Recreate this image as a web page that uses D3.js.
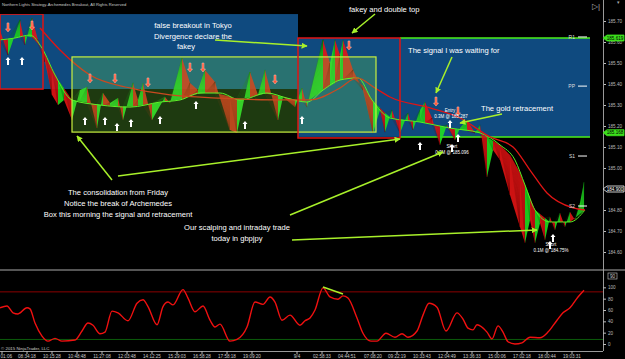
<!DOCTYPE html>
<html>
<head>
<meta charset="utf-8">
<script src="https://cdn.jsdelivr.net/npm/d3@7"></script>
<style>
  body { margin: 0; background: #000; }
  svg { display: block; font-family: "Liberation Sans", Arial, sans-serif; }
</style>
</head>
<body>
<div id="chart"></div>
<script>
// price swing tips [bar, price]
const swingBars = [0,8,20,25,32,38,45,52,58,64,72,80,87,97,103,110,118,123,133,138,143,152,165,170,182,190,198,205,215,230,237,250,258,265,278,283,295,302,307,323,330,335,340,343,353,363,373,380,385,392,400,408,413,420,425,432,440,447,455,460,467,475,480,487,493,500,510,520,525,530,535,540,545,550,555,560,565,570,575,580,584];
const swingPrices = [185.657,185.538,185.705,185.586,185.714,185.610,185.505,185.348,185.300,185.324,185.229,185.371,185.386,185.190,185.357,185.310,185.333,185.229,185.405,185.324,185.405,185.229,185.338,185.310,185.524,185.405,185.371,185.467,185.410,185.181,185.167,185.457,185.348,185.467,185.229,185.338,185.290,185.381,185.290,185.610,185.500,185.610,185.538,185.610,185.467,185.371,185.167,185.276,185.171,185.276,185.167,185.262,185.181,185.276,185.314,185.238,185.110,185.205,185.133,185.190,185.229,185.167,185.205,184.957,185.086,185.038,184.871,184.719,184.643,184.752,184.643,184.738,184.657,184.767,184.705,184.786,184.719,184.790,184.752,184.833,184.933];

// fast average (lime line)
const fastBars = [0,15,30,42,55,72,100,130,160,180,200,220,240,267,287,307,323,340,358,372,390,420,450,480,500,515,525,535,550,570,585];
const fastPrices = [185.610,185.619,185.633,185.571,185.443,185.324,185.300,185.290,185.314,185.324,185.357,185.357,185.324,185.357,185.333,185.314,185.371,185.419,185.429,185.324,185.238,185.219,185.190,185.167,185.110,185.038,184.919,184.800,184.743,184.743,184.800];

// slow average (red line)
const slowBars = [40,60,90,130,170,220,280,310,340,357,375,390,430,460,490,513,530,547,573,585];
const slowPrices = [185.667,185.562,185.443,185.381,185.348,185.333,185.324,185.324,185.381,185.429,185.381,185.338,185.286,185.238,185.148,185.100,184.990,184.881,184.810,184.800];

// oscillator
const oscBars = [0,7,13,18,27,30,35,42,48,55,62,75,82,88,93,100,105,112,118,128,137,143,148,157,163,168,173,183,188,195,203,210,215,220,230,237,247,255,263,270,275,282,290,300,305,310,315,323,330,338,343,348,357,363,371,377,386,395,402,408,417,423,429,437,446,457,463,468,473,477,487,492,498,503,508,515,522,530,540,548,557,563,570,578,584];
const oscValues = [64,67,55,53,64,62,37,14,5,10,5,7,23,37,33,18,21,58,55,41,72,78,66,34,66,74,69,96,81,57,67,42,30,35,5,8,30,74,70,83,74,42,51,33,41,46,60,99,83,79,85,81,46,19,5,5,19,12,18,12,23,51,72,65,23,55,44,28,25,34,21,9,32,21,4,0,2,12,11,21,42,55,64,83,95];
const oscLevels = [92, 8];

// signal arrows [bar, price]
const upArrows = [[8,185.529],[22,185.529],[85,185.243],[105,185.243],[117,185.214],[131,185.233],[160,185.248],[196,185.319],[245,185.224],[302,185.248],[420,185.124],[450,185.229],[458,185.162],[452,185.114],[553,184.686],[550,184.652]];
const downArrows = [[8,185.648],[32,185.657],[90,185.405],[115,185.405],[148,185.386],[190,185.457],[203,185.457],[275,185.400],[349,185.562],[436,185.295],[458,185.248]];

// zones
const boxBlueLeft = { x0: 0, x1: 298, p0: 185.733, p1: 185.376 };
const boxTokyo = { x0: 0, x1: 43, p0: 185.733, p1: 185.376 };
const boxFakey = { x0: 298, x1: 400, p0: 185.619, p1: 185.143 };
const boxConsol = { x0: 72, x1: 376, p0: 185.529, p1: 185.171 };
const pivotR1 = 185.619, pivotS = 185.148;
const pivotLabels = [["R1", 185.624], ["PP", 185.390], ["S1", 185.057], ["S2", 184.819]];

const priceTicks = [184.6,184.7,184.8,184.9,185.0,185.1,185.2,185.3,185.4,185.5,185.6,185.7];
const oscTicks = [0,20,40,60,80,100];
const timeBars = [2,27,52,77,102,127,152,177,202,227,252,297,322,347,373,397,422,447,472,497,522,547,572];
const timeLabels = ["01:06","08:34:18","10:15:28","10:48:48","11:27:08","12:03:48","14:12:25","15:29:03","16:58:28","17:58:18","19:09:20","9/4","02:58:33","04:44:51","07:08:20","09:22:19","10:33:43","12:04:49","13:36:33","15:00:06","17:02:18","18:00:44","19:03:31"];

const W = 625, H = 359;
const svg = d3.select("#chart").append("svg").attr("width", W).attr("height", H);
svg.append("rect").attr("width", W).attr("height", H).attr("fill", "#000");

const x = d3.scaleLinear().domain([0, 585]).range([0, 585]);
const y = d3.scaleLinear().domain([184.6, 185.8]).range([252, 0]);
const yo = d3.scaleLinear().domain([0, 120]).range([344, 276]);

const main = svg.append("g");
main.append("clipPath").attr("id", "clipMain").append("rect")
  .attr("x", 0).attr("y", 14).attr("width", 603).attr("height", 254);

const zones = main.append("g").attr("clip-path", "url(#clipMain)");
const BLUE = "#0f4a7f", LIME = "#a8f02a", RED = "#e01515";

function zoneRect(b) {
  return zones.append("rect")
    .attr("x", x(b.x0)).attr("y", y(b.p0))
    .attr("width", x(b.x1) - x(b.x0)).attr("height", y(b.p1) - y(b.p0));
}
zoneRect(boxBlueLeft).attr("fill", BLUE);
zoneRect({ x0: 298, x1: 590, p0: pivotR1, p1: pivotS }).attr("fill", BLUE);

// pivot lines
[pivotR1, pivotS].forEach(p => {
  zones.append("line").attr("x1", x(400)).attr("x2", x(590))
    .attr("y1", y(p)).attr("y2", y(p)).attr("stroke", "#4cf01a").attr("stroke-width", 1.5);
});

// ribbon between swings and fast average
const fastAt = b => {
  const i = d3.bisectRight(fastBars, b);
  if (i <= 0) return fastPrices[0];
  if (i >= fastBars.length) return fastPrices[fastPrices.length - 1];
  const t = (b - fastBars[i - 1]) / (fastBars[i] - fastBars[i - 1]);
  return fastPrices[i - 1] + t * (fastPrices[i] - fastPrices[i - 1]);
};
const ribbon = zones.append("g");
for (let i = 0; i < swingBars.length - 1; i++) {
  const b0 = swingBars[i], b1 = swingBars[i + 1];
  const up = swingPrices[i + 1] > swingPrices[i];
  const col = up ? "#22e022" : "#e81414";
  const dark = up ? "#0a6a0a" : "#6a0505";
  const pts = [[x(b0), y(swingPrices[i])], [x(b1), y(swingPrices[i + 1])],
               [x(b1), y(fastAt(b1))], [x(b0), y(fastAt(b0))]];
  ribbon.append("path").attr("d", "M" + pts.join("L") + "Z")
    .attr("fill", col).attr("fill-opacity", 0.88);
  // hatch lines give the fan texture
  const steps = Math.max(2, Math.round((b1 - b0) / 1.5));
  for (let k = 0; k <= steps; k++) {
    const t = k / steps;
    const bx = b0 + t * (b1 - b0);
    ribbon.append("line")
      .attr("x1", x(b1)).attr("y1", y(swingPrices[i + 1]))
      .attr("x2", x(bx)).attr("y2", y(fastAt(bx)))
      .attr("stroke", dark).attr("stroke-width", 0.4).attr("stroke-opacity", 0.5);
  }
}

const lineGen = d3.line().curve(d3.curveMonotoneX);
zones.append("path")
  .attr("d", lineGen(fastBars.map((b, i) => [x(b), y(fastPrices[i])])))
  .attr("fill", "none").attr("stroke", "#55ee22").attr("stroke-width", 1);
zones.append("path")
  .attr("d", lineGen(slowBars.map((b, i) => [x(b), y(slowPrices[i])])))
  .attr("fill", "none").attr("stroke", RED).attr("stroke-width", 1.3);

// outlined boxes on top
zoneRect(boxConsol).attr("fill", "rgb(130,250,70)").attr("fill-opacity", 0.23)
  .attr("stroke", "#c8f040").attr("stroke-width", 1.2);
zoneRect(boxTokyo).attr("fill", "none").attr("stroke", RED).attr("stroke-width", 1.5);
zoneRect(boxFakey).attr("fill", "none").attr("stroke", RED).attr("stroke-width", 1.5);

// arrows
const arrows = main.append("g");
upArrows.forEach(([b, p]) => {
  const cx = x(b), ty = y(p);
  arrows.append("path")
    .attr("d", `M${cx},${ty}L${cx + 2.5},${ty + 3}L${cx + 1},${ty + 3}L${cx + 1},${ty + 8}L${cx - 1},${ty + 8}L${cx - 1},${ty + 3}L${cx - 2.5},${ty + 3}Z`)
    .attr("fill", "#fff");
});
downArrows.forEach(([b, p]) => {
  const cx = x(b), ty = y(p);
  arrows.append("path")
    .attr("d", `M${cx},${ty}L${cx + 2.5},${ty - 3}L${cx + 1},${ty - 3}L${cx + 1},${ty - 9}L${cx - 1},${ty - 9}L${cx - 1},${ty - 3}L${cx - 2.5},${ty - 3}Z`)
    .attr("fill", "#ff5a3c").attr("stroke", "#ffc0b0").attr("stroke-width", 0.5);
});

// pivot labels
pivotLabels.forEach(([t, p]) => {
  main.append("text").attr("x", 575).attr("y", y(p) + 2).attr("text-anchor", "end")
    .attr("fill", "#ddd").attr("font-size", 5).text(t);
  main.append("line").attr("x1", 578).attr("x2", 587).attr("y1", y(p)).attr("y2", y(p))
    .attr("stroke", "#fff").attr("stroke-width", 1);
});

// trade tags
const tags = [[450, 112, "Entry"], [451, 117.5, "0.3M @ 185.287"], [452, 148, "Short"],
              [452, 153.5, "0.3M @ 185.096"], [551, 246, "Short"], [551, 251.5, "0.1M @ 184.75%"]];
tags.forEach(([tx, ty, t]) => main.append("text").attr("x", tx).attr("y", ty)
  .attr("text-anchor", "middle").attr("fill", "#fff").attr("font-size", 4.5).text(t));

// annotations
svg.append("defs").append("marker").attr("id", "ah").attr("viewBox", "0 0 10 10")
  .attr("refX", 9).attr("refY", 5).attr("markerWidth", 4).attr("markerHeight", 4)
  .attr("orient", "auto").append("path").attr("d", "M0,0L10,5L0,10Z").attr("fill", LIME);
const callouts = [[375, 14, 352, 33], [215, 40, 307, 46], [452, 57, 436, 93], [502, 114, 460, 123],
                  [112, 180, 77, 136], [118, 176, 400, 139], [290, 215, 443, 152], [292, 240, 537, 230]];
callouts.forEach(([x1, y1, x2, y2]) => svg.append("line")
  .attr("x1", x1).attr("y1", y1).attr("x2", x2).attr("y2", y2)
  .attr("stroke", LIME).attr("stroke-width", 1.5).attr("marker-end", "url(#ah)"));

const notes = [
  [193, 28, "middle", "false breakout in Tokyo"], [193, 38.5, "middle", "Divergence declare the"],
  [186, 49, "middle", "fakey"], [349, 12, "start", "fakey and double top"],
  [408, 53, "start", "The signal I was waiting for"], [481, 111, "start", "The gold retracement"],
  [118, 195, "middle", "The consolidation from Friday"], [118, 206, "middle", "Notice the break of Archemedes"],
  [118, 217, "middle", "Box this morning the signal and retracement"],
  [237, 230, "middle", "Our scalping and intraday trade"], [237, 241, "middle", "today in gbpjpy"]
];
notes.forEach(([tx, ty, a, t]) => svg.append("text").attr("x", tx).attr("y", ty)
  .attr("text-anchor", a).attr("fill", "#fff").attr("font-size", 7.6).text(t));

svg.append("text").attr("x", 2).attr("y", 5.5).attr("fill", "#ccc").attr("font-size", 4.1)
  .text("Northern Lights Strategy-Archemedes Breakout, All Rights Reserved");
svg.append("text").attr("x", 592).attr("y", 9).attr("fill", "#aaa").attr("font-size", 8).text("▷|");
svg.append("text").attr("x", 617).attr("y", 4).attr("fill", "#aaa").attr("font-size", 5).text("▾");

// right price axis
const yAxis = d3.axisRight(y).tickValues(priceTicks).tickFormat(d3.format(".2f")).tickSize(3);
const ya = svg.append("g").attr("transform", "translate(603,0)").call(yAxis);
ya.select(".domain").remove();
ya.selectAll("line").attr("stroke", "#bbb");
ya.selectAll("text").attr("fill", "#bbb").attr("font-size", 4.6).attr("x", 5);
svg.append("line").attr("x1", 603.5).attr("x2", 603.5).attr("y1", 0).attr("y2", 351)
  .attr("stroke", "#999");

function priceTag(p, fill, stroke, txtCol) {
  const ty = y(p);
  svg.append("path").attr("d", `M603,${ty}L607,${ty - 3}L624,${ty - 3}L624,${ty + 3}L607,${ty + 3}Z`)
    .attr("fill", fill).attr("stroke", stroke).attr("stroke-width", 0.8);
  svg.append("text").attr("x", 615).attr("y", ty + 1.6).attr("text-anchor", "middle")
    .attr("fill", txtCol).attr("font-size", 4.6).text(d3.format(".3f")(p));
}
priceTag(pivotR1, "#3ce01c", "#3ce01c", "#000");
priceTag(pivotS + 0.02, "#3ce01c", "#3ce01c", "#000");
priceTag(swingPrices[swingPrices.length - 1] - 0.033, "#000", "#fff", "#fff");

// oscillator panel
svg.append("line").attr("x1", 0).attr("x2", W).attr("y1", 270).attr("y2", 270)
  .attr("stroke", "#aaa").attr("stroke-width", 1);
svg.append("line").attr("x1", 0).attr("x2", 603).attr("y1", yo(oscLevels[0])).attr("y2", yo(oscLevels[0]))
  .attr("stroke", "#8b0000").attr("stroke-width", 1);
svg.append("line").attr("x1", 0).attr("x2", 603).attr("y1", yo(oscLevels[1])).attr("y2", yo(oscLevels[1]))
  .attr("stroke", "#0b5a0b").attr("stroke-width", 1);
svg.append("path")
  .attr("d", d3.line().curve(d3.curveMonotoneX)(oscBars.map((b, i) => [x(b), yo(oscValues[i])])))
  .attr("fill", "none").attr("stroke", "#f01010").attr("stroke-width", 1.4);
svg.append("line").attr("x1", 323).attr("y1", 287).attr("x2", 343).attr("y2", 294)
  .attr("stroke", LIME).attr("stroke-width", 1.5);

const oAxis = d3.axisRight(yo).tickValues(oscTicks).tickSize(3);
const oa = svg.append("g").attr("transform", "translate(603,0)").call(oAxis);
oa.select(".domain").remove();
oa.selectAll("line").attr("stroke", "#bbb");
oa.selectAll("text").attr("fill", "#bbb").attr("font-size", 4.6).attr("x", 5);
svg.append("rect").attr("x", 608).attr("y", 273).attr("width", 9).attr("height", 6)
  .attr("fill", "none").attr("stroke", "#ccc").attr("stroke-width", 0.6);
svg.append("text").attr("x", 612.5).attr("y", 277.8).attr("text-anchor", "middle")
  .attr("fill", "#ccc").attr("font-size", 4.6).text("90");

// time axis
svg.append("line").attr("x1", 0).attr("x2", 603).attr("y1", 351.5).attr("y2", 351.5).attr("stroke", "#999");
const tAxis = svg.append("g");
timeBars.forEach((b, i) => {
  tAxis.append("line").attr("x1", x(b)).attr("x2", x(b)).attr("y1", 351).attr("y2", 354).attr("stroke", "#bbb");
  tAxis.append("text").attr("x", i === 0 ? 0.5 : x(b)).attr("y", 358).attr("text-anchor", i === 0 ? "start" : "middle")
    .attr("fill", "#ccc").attr("font-size", 4.6).text(timeLabels[i]);
});
svg.append("text").attr("x", 1).attr("y", 350).attr("fill", "#ccc").attr("font-size", 4.4)
  .text("© 2015 NinjaTrader, LLC");
</script>
</body>
</html>
